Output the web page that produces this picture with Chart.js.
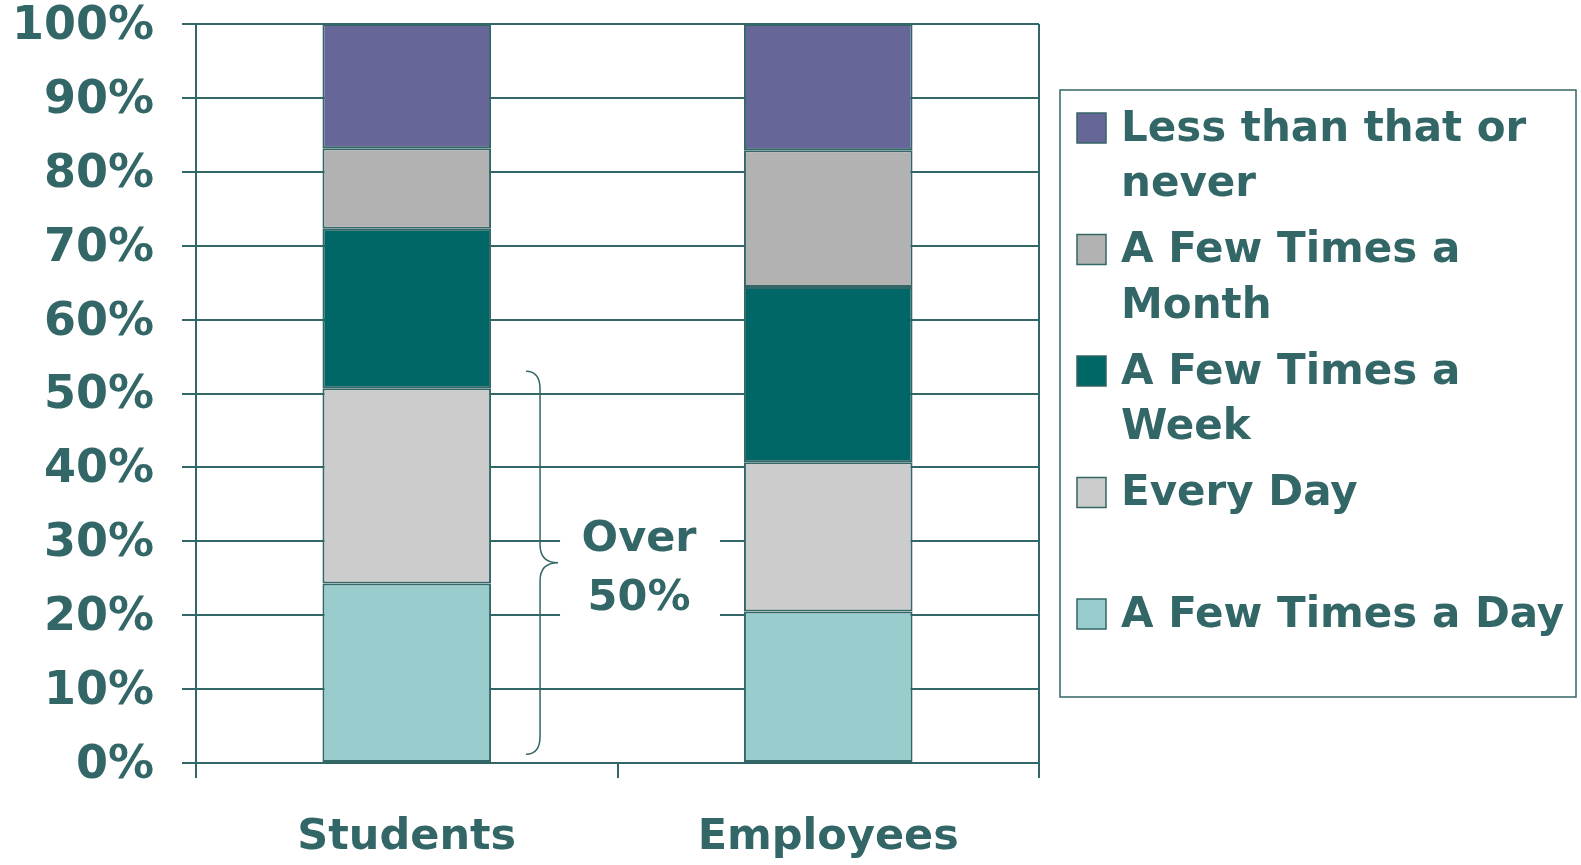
<!DOCTYPE html>
<html>
<head>
<meta charset="utf-8">
<script src="https://cdn.jsdelivr.net/npm/chart.js@4.4.1/dist/chart.umd.min.js"></script>
<style>
  html, body { margin: 0; padding: 0; background: #fff; }
  canvas { display: block; }
</style>
</head>
<body>
<canvas id="usage" width="1581" height="865"></canvas>
<script>
// ---- data ----
const groups = ["Students", "Employees"];
const fewPerDay = [24.3, 20.5];
const everyDay = [26.4, 20.2];
const fewPerWeek = [21.6, 23.7];
const fewPerMonth = [10.9, 18.5];
const lessOrNever = [16.8, 17.1];
const yTicks = [0, 10, 20, 30, 40, 50, 60, 70, 80, 90, 100];
const noteLines = ["Over", "50%"];

const ink = "#336666";
const font = "DejaVu Sans";

const series = [
  { label: "A Few Times a Day", data: fewPerDay, color: "#99cccc" },
  { label: "Every Day", data: everyDay, color: "#cccccc" },
  { label: "A Few Times a Week", data: fewPerWeek, color: "#006666" },
  { label: "A Few Times a Month", data: fewPerMonth, color: "#b2b2b2" },
  { label: "Less than that or never", data: lessOrNever, color: "#666699" },
];

// right border of plot + brace / note
const extras = {
  id: "extras",
  beforeDatasetsDraw(chart) {
    const { ctx, chartArea } = chart;
    ctx.save();
    ctx.strokeStyle = ink;
    ctx.lineWidth = 2;
    ctx.beginPath();
    ctx.moveTo(chartArea.right, chartArea.top);
    ctx.lineTo(chartArea.right, chartArea.bottom);
    ctx.stroke();
    ctx.restore();
  },
  afterDatasetsDraw(chart) {
    const { ctx } = chart;
    const y = chart.scales.y;
    const bar = chart.getDatasetMeta(0).data[0];
    const left = bar.x + bar.width / 2 + 35;
    const top = y.getPixelForValue(53);
    const bot = y.getPixelForValue(1.2);
    const mid = (top + bot) / 2;
    const stem = left + 14;
    const tip = left + 32;

    ctx.save();
    ctx.strokeStyle = ink;
    ctx.lineWidth = 1.5;
    ctx.beginPath();
    ctx.moveTo(left, top);
    ctx.quadraticCurveTo(stem, top, stem, top + 18);
    ctx.lineTo(stem, mid - 18);
    ctx.quadraticCurveTo(stem, mid, tip, mid);
    ctx.quadraticCurveTo(stem, mid, stem, mid + 18);
    ctx.lineTo(stem, bot - 18);
    ctx.quadraticCurveTo(stem, bot, left, bot);
    ctx.stroke();

    // note with white backing over gridlines
    const cx = tip + 81;
    ctx.fillStyle = "#fff";
    ctx.fillRect(tip + 2, mid - 58, 160, 126);
    ctx.fillStyle = ink;
    ctx.font = "bold 43px '" + font + "'";
    ctx.textAlign = "center";
    ctx.textBaseline = "middle";
    ctx.fillText(noteLines[0], cx, mid - 23);
    ctx.fillText(noteLines[1], cx, mid + 36);
    ctx.restore();
  },
};

// boxed legend on the right, top segment first
const sideLegend = {
  id: "sideLegend",
  afterDraw(chart) {
    const { ctx } = chart;
    const box = { x: 1060, y: 90, w: 516, h: 607 };
    const textX = 1121;
    const maxW = 1576 - textX - 8;
    ctx.save();
    ctx.strokeStyle = ink;
    ctx.lineWidth = 1.5;
    ctx.strokeRect(box.x, box.y, box.w, box.h);
    ctx.font = "bold 42px '" + font + "'";
    ctx.textBaseline = "middle";
    ctx.textAlign = "left";

    const items = chart.data.datasets.slice().reverse();
    items.forEach((ds, i) => {
      const cy = 128 + i * 121.5;
      ctx.fillStyle = ds.backgroundColor;
      ctx.fillRect(1077, cy - 15, 29, 30);
      ctx.strokeStyle = ink;
      ctx.lineWidth = 1.5;
      ctx.strokeRect(1077, cy - 15, 29, 30);

      // wrap words
      const words = ds.label.split(" ");
      const lines = [];
      let cur = "";
      words.forEach((w) => {
        const t = cur ? cur + " " + w : w;
        if (ctx.measureText(t).width > maxW && cur) {
          lines.push(cur);
          cur = w;
        } else cur = t;
      });
      lines.push(cur);
      ctx.fillStyle = ink;
      lines.forEach((ln, k) => ctx.fillText(ln, textX, cy + 2 + k * 55.5));
    });
    ctx.restore();
  },
};

new Chart(document.getElementById("usage"), {
  type: "bar",
  data: {
    labels: groups,
    datasets: series.map((s) => ({
      label: s.label,
      data: s.data,
      backgroundColor: s.color,
      borderColor: ink,
      borderWidth: 2,
      borderSkipped: false,
      barPercentage: 0.4,
      categoryPercentage: 1,
    })),
  },
  options: {
    responsive: false,
    animation: false,
    layout: { padding: { top: 24, right: 542, bottom: 0, left: 0 } },
    plugins: { legend: { display: false }, tooltip: { enabled: false } },
    scales: {
      x: {
        stacked: true,
        grid: {
          offset: true,
          drawOnChartArea: false,
          drawTicks: true,
          tickLength: 15,
          color: ink,
          lineWidth: 2,
        },
        border: { display: true, color: ink, width: 2 },
        ticks: {
          color: ink,
          padding: 38,
          font: { family: font, size: 43, weight: "bold", lineHeight: 1 },
        },
        afterFit(scale) {
          scale.height = 102;
          scale.paddingLeft = 0;
          scale.paddingRight = 0;
        },
      },
      y: {
        stacked: true,
        min: 0,
        max: 100,
        afterBuildTicks(scale) {
          scale.ticks = yTicks.map((v) => ({ value: v }));
        },
        grid: { color: ink, lineWidth: 2, tickLength: 14 },
        border: { display: true, color: ink, width: 2 },
        ticks: {
          color: ink,
          padding: 28,
          labelOffset: 3,
          font: { family: font, size: 46, weight: "bold", lineHeight: 1 },
          callback: (v) => v + "%",
        },
        afterFit(scale) {
          scale.width = 196;
          scale.paddingTop = 0;
          scale.paddingBottom = 0;
        },
      },
    },
  },
  plugins: [extras, sideLegend],
});
</script>
</body>
</html>
